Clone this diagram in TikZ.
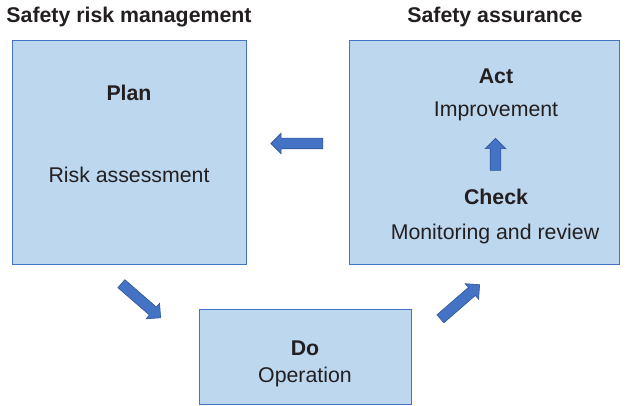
\documentclass[tikz,border=0pt]{standalone}
\usepackage{fontspec}
\setmainfont{Liberation Sans}
\usetikzlibrary{shapes.arrows}
\definecolor{boxfill}{HTML}{BDD7EE}
\definecolor{boxline}{HTML}{4472C4}
\definecolor{arrowfill}{HTML}{4472C4}
\definecolor{arrowline}{HTML}{2F5597}
\definecolor{ink}{HTML}{231F20}
\tikzset{
  panel/.style={draw=boxline, fill=boxfill, line width=0.9pt},
  label/.style={inner sep=0pt, text height=15.3pt, text depth=0pt, text=ink,
    font=\fontsize{21.3}{25}\selectfont},
  heading/.style={label, font=\fontsize{21.3}{25}\selectfont\bfseries},
  flow/.style={single arrow, draw=arrowline, fill=arrowfill, line width=0.6pt,
    inner xsep=0pt, inner ysep=5pt, text height=0pt, text depth=0pt,
    minimum width=20pt, single arrow head extend=5pt,
    single arrow tip angle=90, anchor=center}
}
\begin{document}
\begin{tikzpicture}[x=1pt,y=-1pt]
  \useasboundingbox (0,0) rectangle (631,406);
  % section titles
  \node[heading] (srm) at (129,15) {Safety risk management};
  \node[heading] (sa)  at (495,15) {Safety assurance};
  % the three panels
  \draw[panel] (12,40) rectangle (246,264);
  \draw[panel] (349,40) rectangle (619,264);
  \draw[panel] (199,309) rectangle (411,404);
  % panel texts
  \node[heading] (plan)  at (129,93)  {Plan};
  \node[label]   (risk)  at (129,175) {Risk assessment};
  \node[heading] (act)   at (496,76)  {Act};
  \node[label]   (impr)  at (496,109) {Improvement};
  \node[heading] (check) at (496,197) {Check};
  \node[label]   (mon)   at (495,232) {Monitoring and review};
  \node[heading] (do)    at (305,348) {Do};
  \node[label]   (oper)  at (305,375) {Operation};
  % block arrows of the cycle
  \node[flow, minimum height=52pt, rotate=180] (toplan)  at (299.5,143.5) {};
  \node[flow, minimum height=32pt, rotate=90]  (tocheck) at (495.5,157) {};
  \node[flow, minimum height=52pt, rotate=-41] (todo)    at (139,299) {};
  \node[flow, minimum height=52pt, rotate=41]  (toact)   at (458,303.5) {};
\end{tikzpicture}
\end{document}
